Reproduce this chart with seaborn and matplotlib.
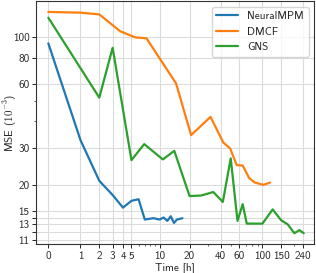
import numpy as np
import pandas as pd
import matplotlib
matplotlib.use("Agg")
import matplotlib.pyplot as plt
from matplotlib.ticker import NullFormatter
import seaborn as sns

# hours of training vs validation MSE (x 1e-3)
time_neuralmpm = [0, 1, 2, 3, 4, 5, 6, 7, 8.6, 10, 11, 12, 13, 14, 15, 17]
mse_neuralmpm = [93.7, 32.6, 20.9, 17.9, 15.6, 16.8, 17.1, 13.7, 13.9, 13.7,
                 14.0, 13.5, 14.2, 13.2, 13.7, 13.9]

time_dmcf = [0, 1, 2, 3.7, 5.5, 7.3, 14.7, 20.7, 32, 42.5, 49.3, 57, 65, 75,
             85, 102, 118]
mse_dmcf = [132, 131, 128.5, 107, 100, 99, 60.5, 34.4, 42, 31.7, 29.8, 24.8,
            24.7, 21.5, 20.5, 20.0, 20.5]

time_gns = [0, 2, 3, 5, 6.9, 10.8, 14.1, 20, 26, 34, 42, 50, 58, 65, 71, 100,
            125, 150, 173, 200, 223, 245]
mse_gns = [124, 51.8, 89.3, 26.2, 31.2, 26.4, 29, 17.7, 17.8, 18.5, 16.6, 26.7,
           13.5, 16.2, 13.1, 13.1, 15.3, 13.6, 13.0, 11.8, 12.2, 11.8]

models = ['NeuralMPM', 'DMCF', 'GNS']
xticks = [0, 1, 2, 3, 4, 5, 10, 20, 40, 60, 100, 150, 240]
yticks = [11, 12, 13, 14, 15, 20, 30, 60, 80, 100]
ytick_labels = ['11', '', '13', '', '15', '20', '30', '60', '80', '100']

df = pd.concat([
    pd.DataFrame({'time': time_neuralmpm, 'mse': mse_neuralmpm, 'model': 'NeuralMPM'}),
    pd.DataFrame({'time': time_dmcf, 'mse': mse_dmcf, 'model': 'DMCF'}),
    pd.DataFrame({'time': time_gns, 'mse': mse_gns, 'model': 'GNS'}),
])

sns.set_style("ticks")
plt.rcParams['font.family'] = ['cmss10', 'DejaVu Sans']
plt.rcParams['mathtext.fontset'] = 'cm'
plt.rcParams['axes.unicode_minus'] = False
plt.rcParams['font.size'] = 8

fig = plt.figure(figsize=(3.16, 2.73), dpi=100)
ax = fig.add_axes([0.113, 0.105, 0.881, 0.891])

sns.lineplot(data=df, x='time', y='mse', hue='model', hue_order=models,
             palette='tab10', linewidth=1.6, ax=ax, sort=False)

# log(1 + t) axis for time
ax.set_xscale('function', functions=(lambda x: np.log10(np.clip(x + 1, 1e-6, None)),
                                     lambda y: 10 ** y - 1))
ax.set_yscale('log')
ax.set_xlim(-0.238, 306.6)
ax.set_ylim(10.45, 148.6)

ax.set_xticks(xticks, [str(t) for t in xticks])
ax.set_xticks([6, 7, 8, 9, 30, 50, 70, 80, 90, 200], minor=True)
ax.set_yticks(yticks, ytick_labels)
ax.set_yticks([40, 50], minor=True)
ax.yaxis.set_minor_formatter(NullFormatter())
ax.xaxis.set_minor_formatter(NullFormatter())
ax.tick_params(which='major', length=3, width=0.7, labelsize=8, pad=1.5)
ax.tick_params(which='minor', length=1.5, width=0.5)

ax.grid(True, which='major', color='0.86', linewidth=0.8)
for s in ax.spines.values():
    s.set_color('0.2')
    s.set_linewidth(0.8)

ax.set_xlabel('Time [h]', fontsize=8, labelpad=1)
ax.set_ylabel(r'MSE ($10^{-3}$)', fontsize=8)
ax.yaxis.set_label_coords(-0.06, 0.5)

handles, labels = ax.get_legend_handles_labels()
ax.legend(handles, labels, loc='upper right', fontsize=8)

fig.savefig('out.png', dpi=100)
